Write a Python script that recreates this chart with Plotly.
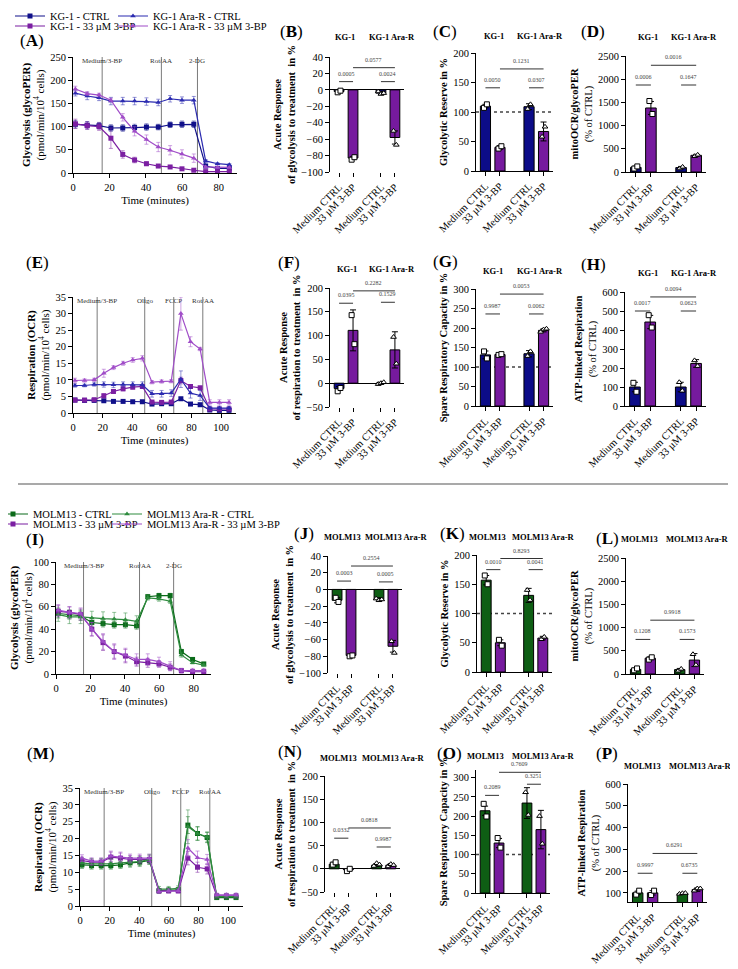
import plotly.graph_objects as go

W, H = 738, 969
OFF = 8                      # the page body adds an 8px margin around the figure
FW, FH = W - OFF, H - OFF
FONT = "Liberation Serif, Times New Roman, serif"

# ---------------- Seahorse time courses ----------------
t_glyco = [1.3, 7.8, 14.3, 20.8, 27.3, 33.8, 40.3, 46.8, 53.3, 59.8, 66.3, 72.8, 79.3, 85.8]
t_mito = [1.3, 7.8, 14.3, 20.8, 27.3, 33.8, 40.3, 46.8, 53.3, 59.8, 66.3, 72.8, 79.3, 85.8, 92.3, 98.8, 105.3]
inj_glyco = [16, 48.5, 68.3]
inj_glyco_lbl = ["Medium/3-BP", "Rot/AA", "2-DG"]
inj_mito = [16.3, 48.4, 68, 87.6]
inj_mito_lbl = ["Medium/3-BP", "Oligo", "FCCP", "Rot/AA"]

# (A) KG-1 glycoPER
kg1_ctrl_glyco = [105, 103, 102, 97, 97, 98, 99, 99, 104, 105, 105, 15, 10, 10]
kg1_ctrl_glyco_sd = [8, 8, 7, 7, 7, 7, 7, 6, 6, 7, 7, 4, 3, 3]
kg1_bp_glyco = [106, 102, 100, 75, 40, 28, 20, 15, 13, 9, 6, 3, 3, 3]
kg1_bp_glyco_sd = [10, 8, 8, 22, 8, 6, 4, 3, 3, 2, 2, 1, 1, 1]
kg1ar_ctrl_glyco = [172, 166, 162, 155, 155, 155, 154, 152, 160, 157, 157, 26, 20, 18]
kg1ar_ctrl_glyco_sd = [6, 8, 6, 8, 8, 8, 8, 7, 7, 7, 8, 3, 2, 2]
kg1ar_bp_glyco = [181, 171, 168, 157, 120, 90, 72, 56, 49, 41, 32, 13, 12, 12]
kg1ar_bp_glyco_sd = [6, 4, 4, 4, 8, 10, 10, 10, 10, 9, 9, 2, 2, 2]

# (E) KG-1 OCR
kg1_ctrl_ocr = [3.9, 3.8, 3.8, 3.7, 3.5, 3.5, 3.4, 3.4, 2.7, 2.8, 2.8, 4.3, 2.7, 2.5, 0.9, 0.8, 0.8]
kg1_ctrl_ocr_sd = [0.3, 0.3, 0.3, 0.3, 0.3, 0.3, 0.3, 0.3, 0.3, 0.3, 0.3, 0.4, 0.3, 0.3, 0.2, 0.2, 0.2]
kg1_bp_ocr = [3.9, 3.9, 4.0, 5.2, 6.5, 7.3, 7.8, 8.0, 3.3, 3.2, 3.3, 9.8, 8.0, 7.6, 1.2, 1.2, 1.2]
kg1_bp_ocr_sd = [0.4, 0.4, 0.4, 0.6, 0.6, 0.6, 0.6, 0.6, 0.4, 0.4, 0.4, 1.0, 0.6, 0.5, 0.3, 0.3, 0.3]
kg1ar_ctrl_ocr = [8.3, 8.3, 8.6, 8.6, 8.5, 8.6, 8.6, 8.5, 5.8, 5.8, 6.0, 10.2, 6.0, 5.3, 1.5, 1.5, 1.5]
kg1ar_ctrl_ocr_sd = [0.5, 0.4, 0.5, 0.8, 0.8, 0.8, 0.8, 0.9, 1.0, 1.0, 1.0, 2.5, 1.5, 1.5, 0.5, 0.5, 0.5]
kg1ar_bp_ocr = [9.8, 9.8, 10.0, 12.0, 13.7, 15.0, 16.0, 16.5, 9.3, 9.5, 9.6, 30.0, 21.5, 19.3, 3.2, 3.2, 3.2]
kg1ar_bp_ocr_sd = [0.7, 0.5, 0.5, 1.2, 0.6, 0.6, 0.7, 0.8, 0.5, 0.5, 0.5, 5.0, 1.5, 0.5, 0.8, 0.8, 0.8]

# (I) MOLM13 glycoPER
molm_ctrl_glyco = [54, 53, 52, 46, 45, 44, 44, 43, 69, 70, 70, 20, 13, 9]
molm_ctrl_glyco_sd = [4, 4, 4, 4, 3, 3, 3, 3, 2, 2, 2, 2, 1, 1]
molm_bp_glyco = [56, 55, 53, 40, 28, 20, 16, 11, 10, 9, 6, 3, 2, 2]
molm_bp_glyco_sd = [5, 5, 5, 6, 7, 6, 6, 4, 4, 3, 3, 2, 2, 2]
molmar_ctrl_glyco = [53, 51, 51, 50, 49.5, 49, 48.5, 47, 68, 67, 65, 17, 10, 8]
molmar_ctrl_glyco_sd = [6, 6, 6, 6, 6, 6, 6, 5, 2, 2, 2, 2, 1, 1]
molmar_bp_glyco = [57, 55, 54, 40, 29, 20, 17, 13, 13, 11, 7, 3, 3, 3]
molmar_bp_glyco_sd = [5, 5, 5, 6, 7, 7, 6, 5, 5, 4, 4, 2, 2, 2]

# (M) MOLM13 OCR
molm_ctrl_ocr = [12.2, 12.0, 12.0, 12.0, 12.2, 12.8, 13.0, 13.5, 4.5, 4.7, 4.8, 24.0, 21.5, 20.3, 2.5, 2.5, 2.5]
molm_ctrl_ocr_sd = [1, 1, 1, 1, 1, 1, 1, 1, 0.7, 0.7, 0.7, 2.5, 2, 1.5, 0.5, 0.5, 0.5]
molm_bp_ocr = [13.5, 13.0, 13.0, 14.5, 14.2, 13.8, 13.8, 13.8, 4.5, 4.5, 4.5, 14.2, 11.5, 11.0, 3.0, 3.0, 3.0]
molm_bp_ocr_sd = [1, 1, 1, 1.5, 1.5, 1.2, 1.2, 1.2, 0.6, 0.6, 0.6, 2, 1.5, 1.5, 0.5, 0.5, 0.5]
molmar_ctrl_ocr = [12.8, 12.5, 12.5, 12.5, 12.8, 13.0, 13.2, 13.8, 5.0, 5.0, 5.2, 23.5, 21.5, 20.5, 2.8, 2.8, 2.8]
molmar_ctrl_ocr_sd = [1.5, 1.5, 1.5, 1.5, 1.5, 1.5, 1.5, 1.5, 0.8, 0.8, 0.8, 5, 2, 1.5, 0.8, 0.8, 0.8]
molmar_bp_ocr = [14.2, 13.3, 13.3, 14.8, 14.5, 14.2, 14.2, 14.2, 4.3, 4.5, 4.5, 17.2, 14.3, 13.8, 3.3, 3.3, 3.3]
molmar_bp_ocr_sd = [1, 1, 1, 1.5, 1.5, 1.2, 1.2, 1.2, 0.6, 0.6, 0.6, 2.5, 2, 1.5, 0.5, 0.5, 0.5]

# ---------------- bar panels ----------------
bar_lbl = ["Medium CTRL", "33 µM 3-BP", "Medium CTRL", "33 µM 3-BP"]
bar_pos = [0, 1, 3, 4]
kg_groups = ["KG-1", "KG-1 Ara-R"]
molm_groups = ["MOLM13", "MOLM13 Ara-R"]

b_mean = [-2, -83, -4, -58]
b_sd = [1.5, 1.5, 2, 8]
b_pts = [[-3, -1], [-85, -82], [-2, -5, -4], [-50, -67]]
b_p = ["0.0005", "0.0024", "0.0577"]

c_mean = [110, 40, 109, 67]
c_sd = [3, 3, 5, 16]
c_pts = [[107, 113], [38, 42], [105, 113], [58, 75]]
c_p = ["0.0050", "0.0307", "0.1231"]

d_mean = [100, 1380, 95, 360]
d_sd = [25, 140, 25, 20]
d_pts = [[75, 120], [1530, 1250], [75, 110], [340, 370]]
d_p = ["0.0006", "0.1647", "0.0016"]

f_mean = [-11, 111, 0, 70]
f_sd = [4, 43, 2, 38]
f_pts = [[-17, -10], [143, 82], [-2, 0, 2], [97, 41]]
f_p = ["0.0395", "0.1529", "0.2282"]

g_mean = [131, 132, 134, 194]
g_sd = [10, 2, 8, 4]
g_pts = [[140, 122], [131, 133], [128, 140], [190, 196, 198]]
g_p = ["0.9987", "0.0062", "0.0053"]

h_mean = [100, 442, 100, 224]
h_sd = [25, 35, 25, 20]
h_pts = [[122, 75], [478, 413], [125, 80], [240, 210]]
h_p = ["0.0017", "0.0623", "0.0094"]

j_mean = [-13, -79, -12, -68]
j_sd = [3, 1, 2, 7]
j_pts = [[-10, -15], [-80, -79], [-11, -13, -12], [-62, -76]]
j_p = ["0.0003", "0.0005", "0.2554"]

k_mean = [157, 50, 131, 58]
k_sd = [8, 5, 12, 3]
k_pts = [[165, 150], [55, 45], [140, 123], [56, 60]]
k_p = ["0.0010", "0.0041", "0.8293"]

l_mean = [100, 340, 95, 300]
l_sd = [25, 30, 25, 140]
l_pts = [[80, 120], [310, 360], [70, 110], [425, 195]]
l_p = ["0.1208", "0.1573", "0.9918"]

n_mean = [10, -2, 8, 8]
n_sd = [4, 2, 3, 3]
n_pts = [[9, 14], [-5, 0], [6, 12, 9], [5, 10, 8]]
n_p = ["0.0332", "0.9987", "0.0818"]

o_mean = [214, 130, 234, 165]
o_sd = [12, 12, 40, 50]
o_pts = [[232, 199], [143, 118], [262, 203], [200, 128]]
o_p = ["0.2089", "0.3251", "0.7609"]

p_mean = [100, 100, 97, 115]
p_sd = [8, 10, 3, 8]
p_pts = [[92, 110], [90, 110], [95, 98, 99], [110, 120, 120]]
p_p = ["0.9997", "0.6735", "0.6291"]

NAVY = "#10108a"
NAVY_LT = "#2b2bb0"
PURPLE = "#7b1fa2"
PURPLE_LT = "#a04cc8"
GREEN = "#0b6b1a"
GREEN_LT = "#2e8b3e"
BAR_NAVY = "#0c0c88"
BAR_PURPLE = "#761a9e"
BAR_GREEN = "#0e5e14"

fig = go.Figure()
lay = {}
shapes = []
notes = []


def fx(x):
    return (x - OFF) / FW


def fy(y):
    return 1 - (y - OFF) / FH


def fade(col, a=0.5):
    r, g, b = (int(col[k:k + 2], 16) for k in (1, 3, 5))
    return f"rgba({r},{g},{b},{a})"


def refs(i):
    s = "" if i == 1 else str(i)
    return "x" + s, "y" + s, "xaxis" + s, "yaxis" + s


def axis_style(**kw):
    d = dict(showline=True, linecolor="black", linewidth=1, ticks="outside", ticklen=4,
             tickcolor="black", tickfont=dict(family=FONT, size=10.5, color="black"),
             showgrid=False, zeroline=False)
    d.update(kw)
    return d


def ttl(text, size=10.5, standoff=4):
    return dict(text=text, font=dict(family=FONT, size=size, color="black"), standoff=standoff)


def line_panel(i, box, t, series, inj, inj_lbl, xmax, ymax, ydtick, ytitle, legends=None):
    xr, yr, xk, yk = refs(i)
    l, r, tp, bt = box
    for n, (name, y, e, col, sym) in enumerate(series):
        fig.add_trace(go.Scatter(
            x=t, y=y, xaxis=xr, yaxis=yr, name=name, mode="lines+markers",
            line=dict(color=col, width=1.2),
            marker=dict(color=col, symbol=sym, size=5),
            error_y=dict(type="data", array=e, color=fade(col), thickness=1, width=2),
            showlegend=legends is not None,
            legend=legends[n] if legends else "legend"))
    for tx, lbl in zip(inj, inj_lbl):
        shapes.append(dict(type="line", xref=xr, yref=yr + " domain", x0=tx, x1=tx, y0=0, y1=1,
                           line=dict(color="#7a7a7a", width=1), layer="below"))
        notes.append(dict(xref=xr, yref=yr + " domain", x=tx, y=1, xanchor="center",
                          yanchor="top", yshift=2, showarrow=False, text=lbl,
                          font=dict(family=FONT, size=7, color="#333")))
    lay[xk] = axis_style(range=[0, xmax], dtick=20, anchor=yr, domain=[fx(l), fx(r)],
                         title=ttl("Time (minutes)", 11))
    lay[yk] = axis_style(range=[0, ymax], dtick=ydtick, anchor=xr, domain=[fy(bt), fy(tp)],
                         title=ttl(ytitle, 11, 3))


def bar_panel(i, box, mean, sd, pts, pvals, sig_y, cols, yrange, yticks, ytitle,
              groups, head_xy, ref100=False):
    xr, yr, xk, yk = refs(i)
    l, r, tp, bt = box
    neg = yrange[0] < 0
    fig.add_trace(go.Bar(
        x=bar_pos, y=mean, width=0.7, xaxis=xr, yaxis=yr, showlegend=False,
        marker=dict(color=cols, line=dict(color="black", width=1)),
        error_y=dict(type="data", array=sd, color="black", thickness=1, width=3)))
    for j, vals in enumerate(pts):
        n = len(vals)
        xs = [bar_pos[j] + (k - (n - 1) / 2) * 0.2 for k in range(n)]
        fig.add_trace(go.Scatter(
            x=xs, y=vals, mode="markers", xaxis=xr, yaxis=yr, showlegend=False,
            marker=dict(symbol="square" if j < 2 else "triangle-up", size=5, color="white",
                        line=dict(color="black", width=1))))
    pairs = [(0, 1), (2, 3), (1, 3)]
    for (a, b), lvl, txt in zip(pairs, sig_y, pvals):
        fig.add_trace(go.Scatter(
            x=[bar_pos[a], bar_pos[b]], y=[lvl, lvl], mode="lines", xaxis=xr, yaxis=yr,
            showlegend=False, line=dict(color="#333", width=1), cliponaxis=False))
        notes.append(dict(xref=xr, yref=yr, x=(bar_pos[a] + bar_pos[b]) / 2, y=lvl,
                          xanchor="center", yanchor="bottom", yshift=3, showarrow=False,
                          text=txt, font=dict(family=FONT, size=6, color="#444")))
    hx, hy = head_xy
    for gx, g in zip(hx, groups):
        notes.append(dict(xref="paper", yref="paper", x=fx(gx), y=fy(hy), xanchor="center",
                          yanchor="middle", showarrow=False, text="<b>" + g + "</b>",
                          font=dict(family=FONT, size=8.5, color="black")))
    if ref100:
        shapes.append(dict(type="line", xref=xr + " domain", yref=yr, x0=0, x1=1, y0=100, y1=100,
                           line=dict(color="#444", width=1.5, dash="dot"), layer="below"))
    lay[xk] = axis_style(range=[-0.65, 4.65], tickvals=bar_pos, ticktext=bar_lbl, tickangle=-45,
                         showline=not neg, anchor=yr, domain=[fx(l), fx(r)])
    lay[yk] = axis_style(range=yrange, tickvals=yticks, anchor=xr, zeroline=neg,
                         zerolinecolor="black", zerolinewidth=1,
                         domain=[fy(bt), fy(tp)], title=ttl(ytitle, 10.5, 3))


# ---- KG-1 ----
line_panel(1, (73, 237, 57, 173), t_glyco, [
    ("KG-1 - CTRL", kg1_ctrl_glyco, kg1_ctrl_glyco_sd, NAVY, "square"),
    ("KG-1 - 33 µM 3-BP", kg1_bp_glyco, kg1_bp_glyco_sd, PURPLE, "square"),
    ("KG-1 Ara-R - CTRL", kg1ar_ctrl_glyco, kg1ar_ctrl_glyco_sd, NAVY_LT, "triangle-up"),
    ("KG-1 Ara-R - 33 µM 3-BP", kg1ar_bp_glyco, kg1ar_bp_glyco_sd, PURPLE_LT, "triangle-up"),
], inj_glyco, inj_glyco_lbl, 90, 250, 50,
    "<b>Glycolysis (glycoPER)</b><br>(pmol/min/10<sup>4</sup> cells)",
    legends=["legend", "legend3", "legend2", "legend4"])

kg_cols = [BAR_NAVY, BAR_PURPLE, BAR_NAVY, BAR_PURPLE]
molm_cols = [BAR_GREEN, BAR_PURPLE, BAR_GREEN, BAR_PURPLE]
acute_gly = "<b>Acute Response<br>of glycolysis to treatment  in %</b>"
acute_resp = "<b>Acute Response<br>of respiration to treatment  in %</b>"

bar_panel(2, (330, 404, 57, 172), b_mean, b_sd, b_pts, b_p, [10, 10, 27], kg_cols,
          [-100, 40], [-100, -80, -60, -40, -20, 0, 20, 40], acute_gly, kg_groups, ((345, 392), 37))
bar_panel(3, (476, 553, 53, 171), c_mean, c_sd, c_pts, c_p, [141, 141, 173], kg_cols,
          [0, 200], [0, 50, 100, 150, 200], "<b>Glycolytic Reserve in %</b>", kg_groups,
          ((494, 540), 36), ref100=True)
bar_panel(4, (626, 706, 56, 172), d_mean, d_sd, d_pts, d_p, [1875, 1875, 2300], kg_cols,
          [0, 2500], [0, 500, 1000, 1500, 2000, 2500],
          "<b>mitoOCR/glycoPER</b><br>(% of CTRL)", kg_groups, ((648, 694), 37))

line_panel(5, (73, 236, 297, 413), t_mito, [
    ("KG-1 - CTRL", kg1_ctrl_ocr, kg1_ctrl_ocr_sd, NAVY, "square"),
    ("KG-1 - 33 µM 3-BP", kg1_bp_ocr, kg1_bp_ocr_sd, PURPLE, "square"),
    ("KG-1 Ara-R - CTRL", kg1ar_ctrl_ocr, kg1ar_ctrl_ocr_sd, NAVY_LT, "triangle-up"),
    ("KG-1 Ara-R - 33 µM 3-BP", kg1ar_bp_ocr, kg1ar_bp_ocr_sd, PURPLE_LT, "triangle-up"),
], inj_mito, inj_mito_lbl, 110, 35, 5,
    "<b>Respiration (OCR)</b><br>(pmol/min/10<sup>4</sup> cells)")

bar_panel(6, (330, 404, 288, 407), f_mean, f_sd, f_pts, f_p, [168, 170, 194], kg_cols,
          [-50, 200], [-50, 0, 50, 100, 150, 200], acute_resp, kg_groups, ((347, 392), 269))
bar_panel(7, (476, 553, 289, 406), g_mean, g_sd, g_pts, g_p, [236, 236, 287], kg_cols,
          [0, 300], [0, 50, 100, 150, 200, 250, 300], "<b>Spare Respiratory Capacity in %</b>",
          kg_groups, ((493, 540), 271), ref100=True)
bar_panel(8, (625, 706, 292, 406), h_mean, h_sd, h_pts, h_p, [500, 500, 574], kg_cols,
          [0, 600], [0, 100, 200, 300, 400, 500, 600],
          "<b>ATP-linked Respiration</b><br>(% of CTRL)", kg_groups, ((648, 694), 273))

# ---- MOLM13 ----
line_panel(9, (56, 211, 562, 674), t_glyco, [
    ("MOLM13 - CTRL", molm_ctrl_glyco, molm_ctrl_glyco_sd, GREEN, "square"),
    ("MOLM13 - 33 µM 3-BP", molm_bp_glyco, molm_bp_glyco_sd, PURPLE, "square"),
    ("MOLM13 Ara-R - CTRL", molmar_ctrl_glyco, molmar_ctrl_glyco_sd, GREEN_LT, "triangle-up"),
    ("MOLM13 Ara-R - 33 µM 3-BP", molmar_bp_glyco, molmar_bp_glyco_sd, PURPLE_LT, "triangle-up"),
], inj_glyco, inj_glyco_lbl, 90, 100, 20,
    "<b>Glycolysis (glycoPER)</b><br>(pmol/min/10<sup>4</sup> cells)",
    legends=["legend5", "legend7", "legend6", "legend8"])

bar_panel(10, (328, 402, 556, 673), j_mean, j_sd, j_pts, j_p, [10, 9, 28], molm_cols,
          [-100, 40], [-100, -80, -60, -40, -20, 0, 20, 40], acute_gly, molm_groups,
          ((342, 396), 537))
bar_panel(11, (477, 552, 555, 672), k_mean, k_sd, k_pts, k_p, [175, 175, 194], molm_cols,
          [0, 200], [0, 50, 100, 150, 200], "<b>Glycolytic Reserve in %</b>", molm_groups,
          ((487, 543), 537), ref100=True)
bar_panel(12, (626, 704, 558, 674), l_mean, l_sd, l_pts, l_p, [745, 745, 1160], molm_cols,
          [0, 2500], [0, 500, 1000, 1500, 2000, 2500],
          "<b>mitoOCR/glycoPER</b><br>(% of CTRL)", molm_groups, ((639, 697), 539))

line_panel(13, (80, 243, 788, 906), t_mito, [
    ("MOLM13 - CTRL", molm_ctrl_ocr, molm_ctrl_ocr_sd, GREEN, "square"),
    ("MOLM13 - 33 µM 3-BP", molm_bp_ocr, molm_bp_ocr_sd, PURPLE, "square"),
    ("MOLM13 Ara-R - CTRL", molmar_ctrl_ocr, molmar_ctrl_ocr_sd, GREEN_LT, "triangle-up"),
    ("MOLM13 Ara-R - 33 µM 3-BP", molmar_bp_ocr, molmar_bp_ocr_sd, PURPLE_LT, "triangle-up"),
], inj_mito, inj_mito_lbl, 110, 35, 5,
    "<b>Respiration (OCR)</b><br>(pmol/min/10<sup>4</sup> cells)")

bar_panel(14, (325, 400, 776, 892), n_mean, n_sd, n_pts, n_p, [66, 47, 88], molm_cols,
          [-50, 200], [-50, 0, 50, 100, 150, 200], acute_resp, molm_groups, ((338, 393), 758))
bar_panel(15, (476, 550, 770, 893), o_mean, o_sd, o_pts, o_p, [254, 283, 314], molm_cols,
          [0, 320], [0, 50, 100, 150, 200, 250, 300], "<b>Spare Respiratory Capacity in %</b>",
          molm_groups, ((485, 543), 756), ref100=True)
bar_panel(16, (628, 707, 784, 902), p_mean, p_sd, p_pts, p_p, [190, 190, 281], molm_cols,
          [58, 600], [100, 200, 300, 400, 500, 600],
          "<b>ATP-linked Respiration</b><br>(% of CTRL)", molm_groups, ((642, 700), 766))

# panel letters
panel_xy = {"A": (32, 40), "B": (291, 32), "C": (445, 32), "D": (593, 32),
            "E": (37, 262), "F": (289, 262), "G": (445, 261), "H": (593, 264),
            "I": (35, 539), "J": (304, 533), "K": (452, 533), "L": (607, 538),
            "M": (40, 753), "N": (290, 751), "O": (449, 753), "P": (607, 753)}
for k, (x, y) in panel_xy.items():
    notes.append(dict(xref="paper", yref="paper", x=fx(x), y=fy(y), xanchor="center",
                      yanchor="middle", showarrow=False, text="(<b>" + k + "</b>)",
                      font=dict(family=FONT, size=17, color="black")))

# divider between cell lines
shapes.append(dict(type="line", xref="paper", yref="paper", x0=fx(18), x1=fx(728),
                   y0=fy(484), y1=fy(484), line=dict(color="#555", width=1.2)))

# legends, one entry each so they sit in a 2x2 grid
leg_xy = {"legend": (10, 16), "legend2": (113, 16), "legend3": (10, 26), "legend4": (113, 26),
          "legend5": (-7, 514), "legend6": (107, 514), "legend7": (-7, 524), "legend8": (107, 524)}
for k, (x, y) in leg_xy.items():
    lay[k] = dict(x=fx(x), y=fy(y), xanchor="left", yanchor="middle",
                  bgcolor="rgba(0,0,0,0)", font=dict(family=FONT, size=10.5, color="black"))

fig.update_layout(
    width=FW, height=FH, margin=dict(l=0, r=0, t=0, b=0, autoexpand=False),
    paper_bgcolor="white", plot_bgcolor="white",
    font=dict(family=FONT, color="black"),
    shapes=shapes, annotations=notes, **lay)

fig.write_html("out.html")
